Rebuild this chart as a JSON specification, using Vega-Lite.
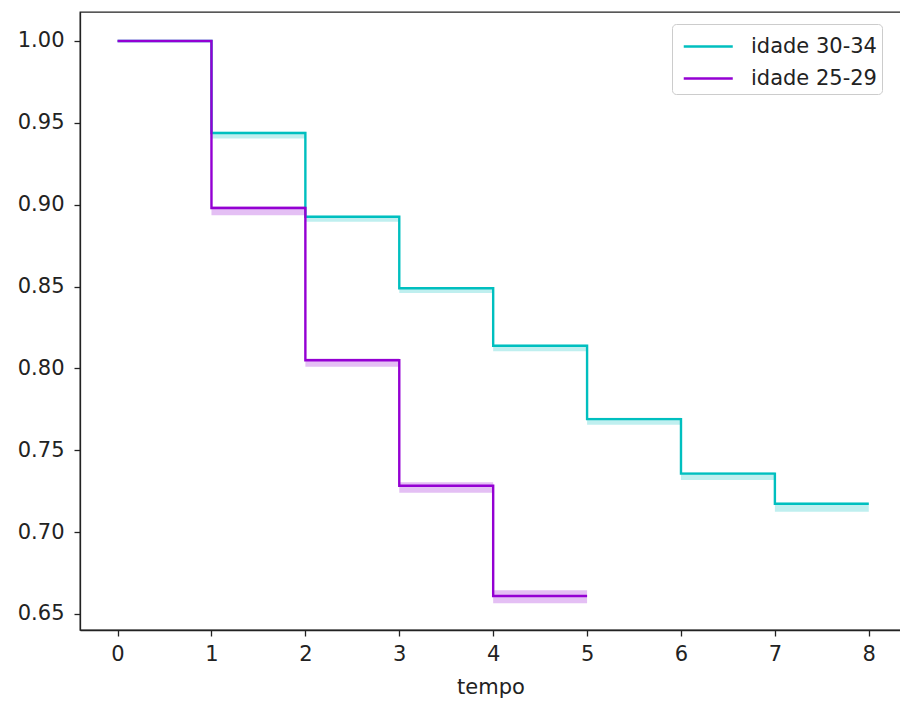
{
  "$schema": "https://vega.github.io/schema/vega-lite/v6.json",
  "autosize": "none",
  "width": 821,
  "height": 618,
  "padding": {"left": 80, "top": 12, "right": 0, "bottom": 71},
  "background": "white",
  "config": {
    "view": {"stroke": "#222", "strokeWidth": 1.3},
    "font": "DejaVu Sans",
    "axis": {
      "labelFont": "DejaVu Sans", "labelFontSize": 21, "labelColor": "#222",
      "titleFont": "DejaVu Sans", "titleFontSize": 21, "titleFontWeight": "normal", "titleColor": "#222",
      "domainColor": "#222", "domainWidth": 1.3, "tickColor": "#222", "tickWidth": 1.3, "tickSize": 6,
      "grid": false
    }
  },
  "datasets": {
    "km": [
      {"grupo": "idade 30-34", "t": 0, "s": 1.0, "lo": 1.0, "hi": 1.0},
      {"grupo": "idade 30-34", "t": 1, "s": 0.9438, "lo": 0.9405, "hi": 0.9445},
      {"grupo": "idade 30-34", "t": 2, "s": 0.8926, "lo": 0.8895, "hi": 0.8932},
      {"grupo": "idade 30-34", "t": 3, "s": 0.849, "lo": 0.846, "hi": 0.8497},
      {"grupo": "idade 30-34", "t": 4, "s": 0.8138, "lo": 0.8105, "hi": 0.8145},
      {"grupo": "idade 30-34", "t": 5, "s": 0.769, "lo": 0.7655, "hi": 0.7698},
      {"grupo": "idade 30-34", "t": 6, "s": 0.7357, "lo": 0.7318, "hi": 0.7365},
      {"grupo": "idade 30-34", "t": 7, "s": 0.7173, "lo": 0.7125, "hi": 0.718},
      {"grupo": "idade 30-34", "t": 8, "s": 0.7173, "lo": 0.7125, "hi": 0.718},
      {"grupo": "idade 25-29", "t": 0, "s": 1.0, "lo": 1.0, "hi": 1.0},
      {"grupo": "idade 25-29", "t": 1, "s": 0.898, "lo": 0.8935, "hi": 0.899},
      {"grupo": "idade 25-29", "t": 2, "s": 0.805, "lo": 0.801, "hi": 0.806},
      {"grupo": "idade 25-29", "t": 3, "s": 0.7283, "lo": 0.724, "hi": 0.7305},
      {"grupo": "idade 25-29", "t": 4, "s": 0.661, "lo": 0.6565, "hi": 0.6645},
      {"grupo": "idade 25-29", "t": 5, "s": 0.661, "lo": 0.6565, "hi": 0.6645}
    ]
  },
  "data": {"name": "km"},
  "encoding": {
    "x": {
      "field": "t", "type": "quantitative", "title": "tempo",
      "scale": {"domain": [-0.4, 8.343], "nice": false, "zero": false},
      "axis": {"values": [0, 1, 2, 3, 4, 5, 6, 7, 8], "format": "d", "labelPadding": 7, "titlePadding": 12}
    },
    "color": {
      "field": "grupo", "type": "nominal",
      "scale": {"domain": ["idade 30-34", "idade 25-29"], "range": ["#00BFBF", "#9400D3"]},
      "legend": {
        "title": null, "orient": "none", "legendX": 592, "legendY": 12,
        "symbolType": "M-0.68,0H2.42", "symbolSize": 1000, "symbolStrokeWidth": 2.4, "symbolOpacity": 1,
        "symbolFillColor": "transparent",
        "labelFont": "DejaVu Sans", "labelFontSize": 21, "labelColor": "#222",
        "padding": 5, "strokeColor": "#cccccc", "fillColor": "white", "cornerRadius": 4,
        "rowPadding": 4, "labelOffset": 39
      }
    }
  },
  "layer": [
    {
      "transform": [{"filter": "datum.grupo === 'idade 30-34'"}],
      "mark": {"type": "area", "interpolate": "step-after", "opacity": 0.25},
      "encoding": {
        "y": {"field": "lo", "type": "quantitative"},
        "y2": {"field": "hi"}
      }
    },
    {
      "transform": [{"filter": "datum.grupo === 'idade 30-34'"}],
      "mark": {"type": "line", "interpolate": "step-after", "strokeWidth": 2.4},
      "encoding": {
        "y": {
          "field": "s", "type": "quantitative", "title": null,
          "scale": {"domain": [0.6402, 1.0177], "nice": false, "zero": false},
          "axis": {"values": [0.65, 0.7, 0.75, 0.8, 0.85, 0.9, 0.95, 1.0], "format": ".2f", "labelPadding": 10}
        }
      }
    },
    {
      "transform": [{"filter": "datum.grupo === 'idade 25-29'"}],
      "mark": {"type": "area", "interpolate": "step-after", "opacity": 0.25},
      "encoding": {
        "y": {"field": "lo", "type": "quantitative"},
        "y2": {"field": "hi"}
      }
    },
    {
      "transform": [{"filter": "datum.grupo === 'idade 25-29'"}],
      "mark": {"type": "line", "interpolate": "step-after", "strokeWidth": 2.4},
      "encoding": {
        "y": {"field": "s", "type": "quantitative"}
      }
    }
  ]
}
